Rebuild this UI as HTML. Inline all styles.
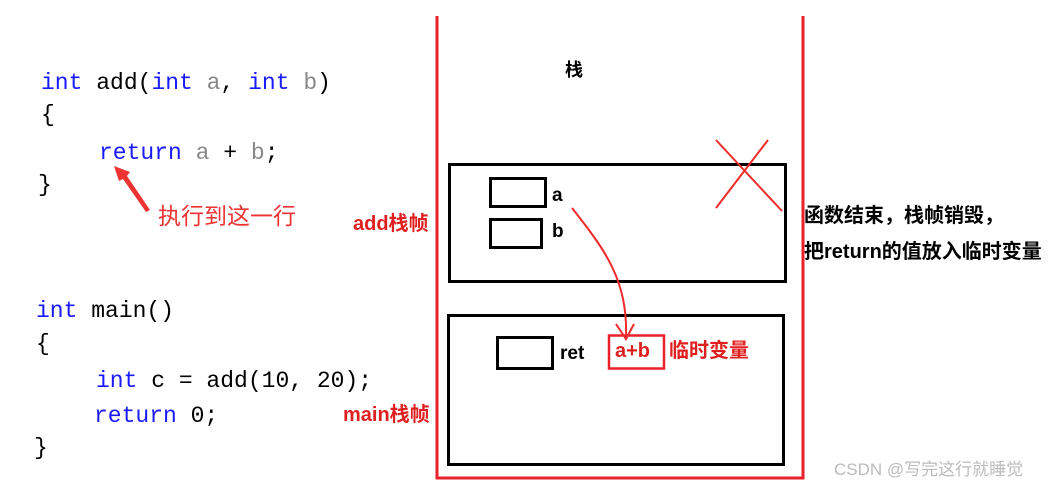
<!DOCTYPE html>
<html><head><meta charset="utf-8"><style>
body{margin:0;width:1062px;height:491px;background:#fff;position:relative;overflow:hidden;font-family:"Liberation Sans","Noto Sans CJK SC",sans-serif}
.c{position:absolute;font-family:"Liberation Mono","Noto Serif CJK SC",monospace;font-size:23px;color:#000;white-space:pre;line-height:1}
.k{color:#1a1aff}.g{color:#888}
.t{position:absolute;font-weight:bold;white-space:nowrap;line-height:1}
</style></head><body>
<div class="c" style="left:41px;top:72px"><span class="k">int</span> add(<span class="k">int</span> <span class="g">a</span>, <span class="k">int</span> <span class="g">b</span>)</div>
<div class="c" style="left:41px;top:104px">{</div>
<div class="c" style="left:99px;top:142px"><span class="k">return</span> <span class="g">a</span> + <span class="g">b</span>;</div>
<div class="c" style="left:38px;top:174px">}</div>
<div class="c" style="left:36px;top:300px"><span class="k">int</span> main()</div>
<div class="c" style="left:36px;top:333px">{</div>
<div class="c" style="left:96px;top:370px"><span class="k">int</span> c = add(10, 20);</div>
<div class="c" style="left:94px;top:405px"><span class="k">return</span> 0;</div>
<div class="c" style="left:34px;top:437px">}</div>
<div class="t" style="left:158px;top:205px;color:#ee3333;font-weight:normal;font-size:23px">执行到这一行</div>
<div class="t" style="left:353px;top:214px;color:#e02020;font-size:20px">add栈帧</div>
<div class="t" style="left:343px;top:405px;color:#e02020;font-size:20px">main栈帧</div>
<div class="t" style="left:565px;top:61px;font-size:18px">栈</div>
<div class="t" style="left:552px;top:186px;font-size:19px">a</div>
<div class="t" style="left:552px;top:222px;font-size:19px">b</div>
<div class="t" style="left:560px;top:344px;font-size:19px">ret</div>
<div class="t" style="left:615px;top:341px;font-size:20px;color:#e02020">a+b</div>
<div class="t" style="left:669px;top:341px;font-size:20px;color:#e02020">临时变量</div>
<div class="t" style="left:804px;top:206px;font-size:20px">函数结束，栈帧销毁，</div>
<div class="t" style="left:804px;top:242px;font-size:20px">把return的值放入临时变量</div>
<div class="t" style="left:834px;top:461px;font-size:17px;color:#bbb;font-weight:normal">CSDN @写完这行就睡觉</div>
<svg width="1062" height="491" style="position:absolute;left:0;top:0">
<g fill="none" stroke="#e8222a" stroke-width="3">
<polyline points="437,16 437,478 803,478 803,16"/>
</g>
<g fill="none" stroke="#000" stroke-width="3">
<rect x="449.5" y="164.5" width="336" height="117"/>
<rect x="448.5" y="315.5" width="335" height="149"/>
<rect x="490.5" y="178.5" width="55" height="28"/>
<rect x="490.5" y="219.5" width="51" height="28"/>
<rect x="497.5" y="337.5" width="55" height="31"/>
</g>
<rect x="609" y="335.5" width="55" height="33" fill="none" stroke="#e8222a" stroke-width="2.5"/>
<g stroke="#ee2a2a" stroke-width="2" fill="none">
<line x1="716" y1="140" x2="782" y2="211"/>
<line x1="768" y1="140" x2="716" y2="208"/>
<path d="M572,208 C605,250 628,280 626,338"/>
<polyline points="616,324 626,339 634,324"/>
</g>
<polygon points="114,166 130,172 127,176 150,210 146,212 123,179 119,181" fill="#ee3333"/>
</svg>
</body></html>
